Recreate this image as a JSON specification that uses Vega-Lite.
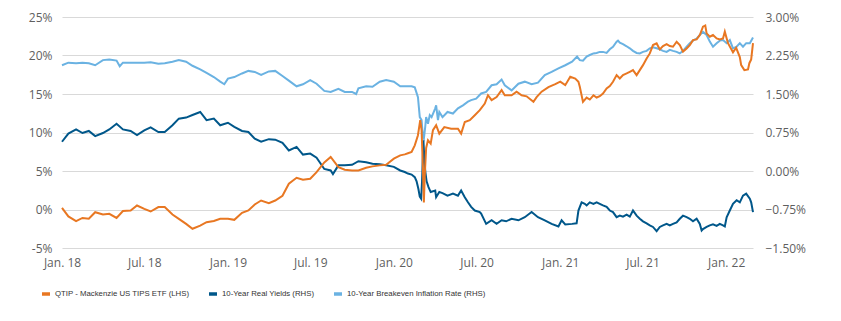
{
  "$schema": "https://vega.github.io/schema/vega-lite/v6.json",
  "width": 691,
  "height": 231,
  "autosize": {"type": "none"},
  "padding": {"left": 62, "top": 17, "right": 88, "bottom": 73},
  "background": "white",
  "config": {
    "view": {"stroke": null},
    "font": "Open Sans",
    "axis": {"labelFont": "Open Sans", "labelFontSize": 12, "labelColor": "#5f5f5f", "title": null, "domain": false, "ticks": false},
    "legend": {
      "orient": "none", "legendX": -22, "legendY": 271, "direction": "horizontal", "columns": 3,
      "symbolType": "stroke", "symbolSize": 64, "symbolStrokeWidth": 3.5,
      "labelFont": "Liberation Sans", "labelFontSize": 7.8, "labelColor": "#333333", "labelLimit": 0,
      "columnPadding": 12, "labelOffset": 3, "padding": 0, "title": null
    }
  },
  "datasets": {
    "be": [
      {"date":"2018-01-01","value":2.06},{"date":"2018-01-15","value":2.11},{"date":"2018-02-01","value":2.10},{"date":"2018-02-15","value":2.11},
      {"date":"2018-03-01","value":2.10},{"date":"2018-03-15","value":2.06},{"date":"2018-04-01","value":2.16},{"date":"2018-04-15","value":2.17},
      {"date":"2018-05-01","value":2.15},{"date":"2018-05-08","value":2.04},{"date":"2018-05-15","value":2.11},{"date":"2018-06-01","value":2.11},
      {"date":"2018-06-15","value":2.11},{"date":"2018-07-01","value":2.11},{"date":"2018-07-15","value":2.12},{"date":"2018-08-01","value":2.09},
      {"date":"2018-08-15","value":2.10},{"date":"2018-09-01","value":2.13},{"date":"2018-09-15","value":2.16},{"date":"2018-10-01","value":2.13},
      {"date":"2018-10-15","value":2.05},{"date":"2018-11-01","value":1.98},{"date":"2018-11-15","value":1.91},{"date":"2018-12-01","value":1.83},
      {"date":"2018-12-15","value":1.74},{"date":"2018-12-24","value":1.69},{"date":"2019-01-01","value":1.80},{"date":"2019-01-15","value":1.83},
      {"date":"2019-02-01","value":1.90},{"date":"2019-02-15","value":1.95},{"date":"2019-03-01","value":1.93},{"date":"2019-03-15","value":1.87},
      {"date":"2019-04-01","value":1.94},{"date":"2019-04-15","value":1.95},{"date":"2019-05-01","value":1.85},{"date":"2019-05-15","value":1.76},
      {"date":"2019-06-01","value":1.65},{"date":"2019-06-15","value":1.69},{"date":"2019-07-01","value":1.77},{"date":"2019-07-15","value":1.70},
      {"date":"2019-08-01","value":1.56},{"date":"2019-08-15","value":1.54},{"date":"2019-09-01","value":1.60},{"date":"2019-09-15","value":1.54},
      {"date":"2019-10-01","value":1.54},{"date":"2019-10-10","value":1.50},{"date":"2019-10-15","value":1.61},{"date":"2019-11-01","value":1.65},
      {"date":"2019-11-15","value":1.64},{"date":"2019-12-01","value":1.74},{"date":"2019-12-15","value":1.77},{"date":"2020-01-01","value":1.74},
      {"date":"2020-01-15","value":1.65},{"date":"2020-01-25","value":1.65},{"date":"2020-02-09","value":1.65},{"date":"2020-02-16","value":1.63},
      {"date":"2020-02-23","value":1.44},{"date":"2020-02-27","value":1.05},{"date":"2020-03-02","value":0.99},{"date":"2020-03-05","value":0.66},
      {"date":"2020-03-07","value":0.63},{"date":"2020-03-10","value":0.86},{"date":"2020-03-12","value":1.05},{"date":"2020-03-16","value":0.92},
      {"date":"2020-03-20","value":1.09},{"date":"2020-03-24","value":1.05},{"date":"2020-04-01","value":1.22},{"date":"2020-04-03","value":1.28},
      {"date":"2020-04-07","value":0.99},{"date":"2020-04-10","value":1.15},{"date":"2020-04-17","value":1.05},{"date":"2020-04-28","value":1.15},
      {"date":"2020-05-10","value":1.12},{"date":"2020-05-21","value":1.22},{"date":"2020-06-01","value":1.28},{"date":"2020-06-12","value":1.35},
      {"date":"2020-06-19","value":1.38},{"date":"2020-06-30","value":1.41},{"date":"2020-07-11","value":1.51},{"date":"2020-07-22","value":1.54},
      {"date":"2020-08-03","value":1.67},{"date":"2020-08-14","value":1.69},{"date":"2020-08-25","value":1.78},{"date":"2020-09-01","value":1.67},
      {"date":"2020-09-16","value":1.57},{"date":"2020-10-01","value":1.70},{"date":"2020-10-15","value":1.74},{"date":"2020-10-30","value":1.69},
      {"date":"2020-11-13","value":1.72},{"date":"2020-11-28","value":1.87},{"date":"2020-12-13","value":1.93},{"date":"2020-12-28","value":2.00},
      {"date":"2021-01-12","value":2.06},{"date":"2021-01-27","value":2.13},{"date":"2021-02-07","value":2.23},{"date":"2021-02-13","value":2.16},
      {"date":"2021-02-20","value":2.15},{"date":"2021-02-28","value":2.23},{"date":"2021-03-07","value":2.26},{"date":"2021-03-15","value":2.29},
      {"date":"2021-03-22","value":2.30},{"date":"2021-03-29","value":2.32},{"date":"2021-04-05","value":2.32},{"date":"2021-04-13","value":2.30},
      {"date":"2021-04-20","value":2.37},{"date":"2021-04-27","value":2.42},{"date":"2021-05-05","value":2.52},{"date":"2021-05-08","value":2.54},
      {"date":"2021-05-12","value":2.50},{"date":"2021-05-19","value":2.47},{"date":"2021-05-27","value":2.43},{"date":"2021-06-03","value":2.39},
      {"date":"2021-06-10","value":2.34},{"date":"2021-06-18","value":2.30},{"date":"2021-06-25","value":2.29},{"date":"2021-07-02","value":2.32},
      {"date":"2021-07-10","value":2.34},{"date":"2021-07-17","value":2.39},{"date":"2021-07-24","value":2.41},{"date":"2021-08-01","value":2.39},
      {"date":"2021-08-08","value":2.37},{"date":"2021-08-15","value":2.34},{"date":"2021-08-23","value":2.32},{"date":"2021-08-30","value":2.36},
      {"date":"2021-09-06","value":2.34},{"date":"2021-09-14","value":2.32},{"date":"2021-09-21","value":2.29},{"date":"2021-09-28","value":2.34},
      {"date":"2021-10-06","value":2.42},{"date":"2021-10-13","value":2.49},{"date":"2021-10-20","value":2.54},{"date":"2021-10-28","value":2.58},
      {"date":"2021-11-04","value":2.65},{"date":"2021-11-11","value":2.71},{"date":"2021-11-19","value":2.65},{"date":"2021-11-26","value":2.52},
      {"date":"2021-12-03","value":2.42},{"date":"2021-12-11","value":2.49},{"date":"2021-12-18","value":2.54},{"date":"2021-12-25","value":2.55},
      {"date":"2022-01-02","value":2.49},{"date":"2022-01-09","value":2.55},{"date":"2022-01-16","value":2.39},{"date":"2022-01-24","value":2.42},
      {"date":"2022-01-31","value":2.49},{"date":"2022-02-07","value":2.42},{"date":"2022-02-14","value":2.49},{"date":"2022-02-22","value":2.49},
      {"date":"2022-03-01","value":2.60}
    ],
    "ry": [
      {"date":"2018-01-01","value":0.57},{"date":"2018-01-15","value":0.73},{"date":"2018-02-01","value":0.81},{"date":"2018-02-15","value":0.74},
      {"date":"2018-03-01","value":0.78},{"date":"2018-03-15","value":0.68},{"date":"2018-04-01","value":0.74},{"date":"2018-04-15","value":0.81},
      {"date":"2018-05-01","value":0.92},{"date":"2018-05-15","value":0.81},{"date":"2018-06-01","value":0.78},{"date":"2018-06-15","value":0.70},
      {"date":"2018-07-01","value":0.79},{"date":"2018-07-15","value":0.85},{"date":"2018-08-01","value":0.76},{"date":"2018-08-15","value":0.76},
      {"date":"2018-09-01","value":0.89},{"date":"2018-09-15","value":1.02},{"date":"2018-10-01","value":1.04},{"date":"2018-10-15","value":1.09},
      {"date":"2018-11-01","value":1.15},{"date":"2018-11-15","value":0.99},{"date":"2018-12-01","value":1.02},{"date":"2018-12-15","value":0.89},
      {"date":"2019-01-01","value":0.94},{"date":"2019-01-15","value":0.86},{"date":"2019-02-01","value":0.78},{"date":"2019-02-15","value":0.76},
      {"date":"2019-03-01","value":0.63},{"date":"2019-03-15","value":0.57},{"date":"2019-04-01","value":0.62},{"date":"2019-04-15","value":0.61},
      {"date":"2019-05-01","value":0.55},{"date":"2019-05-15","value":0.40},{"date":"2019-06-01","value":0.47},{"date":"2019-06-15","value":0.32},
      {"date":"2019-07-01","value":0.34},{"date":"2019-07-15","value":0.26},{"date":"2019-08-01","value":0.04},{"date":"2019-08-15","value":0.01},
      {"date":"2019-08-20","value":-0.06},{"date":"2019-09-01","value":0.11},{"date":"2019-09-15","value":0.11},{"date":"2019-10-01","value":0.12},
      {"date":"2019-10-15","value":0.19},{"date":"2019-11-01","value":0.17},{"date":"2019-11-15","value":0.14},{"date":"2019-12-01","value":0.13},
      {"date":"2019-12-15","value":0.11},{"date":"2020-01-01","value":0.08},{"date":"2020-01-15","value":0.01},{"date":"2020-01-25","value":-0.02},
      {"date":"2020-02-01","value":-0.05},{"date":"2020-02-09","value":-0.07},{"date":"2020-02-16","value":-0.12},{"date":"2020-02-20","value":-0.20},
      {"date":"2020-02-24","value":-0.35},{"date":"2020-02-27","value":-0.50},{"date":"2020-03-01","value":-0.54},{"date":"2020-03-03","value":-0.20},
      {"date":"2020-03-06","value":0.60},{"date":"2020-03-08","value":0.25},{"date":"2020-03-10","value":0.00},{"date":"2020-03-13","value":-0.20},
      {"date":"2020-03-17","value":-0.31},{"date":"2020-03-22","value":-0.41},{"date":"2020-04-01","value":-0.38},{"date":"2020-04-03","value":-0.51},
      {"date":"2020-04-10","value":-0.41},{"date":"2020-04-17","value":-0.43},{"date":"2020-04-28","value":-0.48},{"date":"2020-05-10","value":-0.44},
      {"date":"2020-05-21","value":-0.48},{"date":"2020-05-28","value":-0.38},{"date":"2020-06-05","value":-0.51},{"date":"2020-06-12","value":-0.61},
      {"date":"2020-06-19","value":-0.70},{"date":"2020-06-27","value":-0.77},{"date":"2020-07-08","value":-0.80},{"date":"2020-07-11","value":-0.83},
      {"date":"2020-07-22","value":-1.03},{"date":"2020-08-03","value":-0.96},{"date":"2020-08-14","value":-1.03},{"date":"2020-08-25","value":-0.96},
      {"date":"2020-09-04","value":-0.98},{"date":"2020-09-16","value":-0.93},{"date":"2020-10-01","value":-0.96},{"date":"2020-10-15","value":-0.90},
      {"date":"2020-10-30","value":-0.80},{"date":"2020-11-13","value":-0.90},{"date":"2020-11-28","value":-0.96},{"date":"2020-12-13","value":-1.03},
      {"date":"2020-12-28","value":-1.08},{"date":"2021-01-04","value":-0.96},{"date":"2021-01-12","value":-1.04},{"date":"2021-01-27","value":-1.03},
      {"date":"2021-02-06","value":-1.02},{"date":"2021-02-10","value":-0.77},{"date":"2021-02-17","value":-0.61},{"date":"2021-02-24","value":-0.64},
      {"date":"2021-02-28","value":-0.67},{"date":"2021-03-07","value":-0.61},{"date":"2021-03-15","value":-0.64},{"date":"2021-03-22","value":-0.61},
      {"date":"2021-03-29","value":-0.64},{"date":"2021-04-05","value":-0.67},{"date":"2021-04-13","value":-0.70},{"date":"2021-04-20","value":-0.77},
      {"date":"2021-04-27","value":-0.80},{"date":"2021-05-05","value":-0.90},{"date":"2021-05-12","value":-0.87},{"date":"2021-05-19","value":-0.89},
      {"date":"2021-05-27","value":-0.85},{"date":"2021-06-03","value":-0.89},{"date":"2021-06-10","value":-0.77},{"date":"2021-06-18","value":-0.87},
      {"date":"2021-06-25","value":-0.93},{"date":"2021-07-02","value":-0.98},{"date":"2021-07-10","value":-1.02},{"date":"2021-07-17","value":-1.06},
      {"date":"2021-07-24","value":-1.09},{"date":"2021-08-01","value":-1.17},{"date":"2021-08-08","value":-1.09},{"date":"2021-08-15","value":-1.06},
      {"date":"2021-08-23","value":-1.03},{"date":"2021-08-30","value":-1.06},{"date":"2021-09-06","value":-1.03},{"date":"2021-09-14","value":-1.00},
      {"date":"2021-09-21","value":-0.93},{"date":"2021-09-28","value":-0.87},{"date":"2021-10-06","value":-0.90},{"date":"2021-10-13","value":-0.93},
      {"date":"2021-10-20","value":-0.98},{"date":"2021-10-28","value":-0.93},{"date":"2021-11-04","value":-1.03},{"date":"2021-11-08","value":-1.16},
      {"date":"2021-11-11","value":-1.13},{"date":"2021-11-19","value":-1.09},{"date":"2021-11-26","value":-1.06},{"date":"2021-12-03","value":-1.04},
      {"date":"2021-12-11","value":-1.07},{"date":"2021-12-18","value":-1.03},{"date":"2021-12-25","value":-1.06},{"date":"2021-12-29","value":-1.08},
      {"date":"2022-01-02","value":-0.90},{"date":"2022-01-09","value":-0.77},{"date":"2022-01-16","value":-0.64},{"date":"2022-01-24","value":-0.57},
      {"date":"2022-01-31","value":-0.61},{"date":"2022-02-07","value":-0.48},{"date":"2022-02-14","value":-0.44},{"date":"2022-02-22","value":-0.54},
      {"date":"2022-02-25","value":-0.61},{"date":"2022-03-01","value":-0.80}
    ],
    "q": [
      {"date":"2018-01-01","value":0.22},{"date":"2018-01-15","value":-0.9},{"date":"2018-02-01","value":-1.5},{"date":"2018-02-15","value":-1.1},
      {"date":"2018-03-01","value":-1.2},{"date":"2018-03-15","value":-0.35},{"date":"2018-04-01","value":-0.65},{"date":"2018-04-15","value":-0.56},
      {"date":"2018-05-01","value":-1.1},{"date":"2018-05-15","value":-0.2},{"date":"2018-06-01","value":-0.13},{"date":"2018-06-15","value":0.52},
      {"date":"2018-07-01","value":0.09},{"date":"2018-07-15","value":-0.26},{"date":"2018-08-01","value":0.31},{"date":"2018-08-15","value":0.31},
      {"date":"2018-09-01","value":-0.65},{"date":"2018-09-15","value":-1.21},{"date":"2018-10-01","value":-1.87},{"date":"2018-10-15","value":-2.5},
      {"date":"2018-11-01","value":-2.1},{"date":"2018-11-15","value":-1.65},{"date":"2018-12-01","value":-1.5},{"date":"2018-12-15","value":-1.21},
      {"date":"2019-01-01","value":-1.21},{"date":"2019-01-15","value":-1.34},{"date":"2019-02-01","value":-0.43},{"date":"2019-02-15","value":-0.13},
      {"date":"2019-03-01","value":0.65},{"date":"2019-03-15","value":1.17},{"date":"2019-04-01","value":0.83},{"date":"2019-04-15","value":1.17},
      {"date":"2019-05-01","value":1.78},{"date":"2019-05-15","value":3.34},{"date":"2019-06-01","value":4.12},{"date":"2019-06-15","value":3.86},
      {"date":"2019-07-01","value":3.99},{"date":"2019-07-15","value":4.86},{"date":"2019-08-01","value":6.12},{"date":"2019-08-15","value":6.82},
      {"date":"2019-09-01","value":5.51},{"date":"2019-09-15","value":5.17},{"date":"2019-10-01","value":5.08},{"date":"2019-10-15","value":5.08},
      {"date":"2019-11-01","value":5.43},{"date":"2019-11-15","value":5.60},{"date":"2019-12-01","value":5.73},{"date":"2019-12-15","value":5.82},
      {"date":"2020-01-01","value":6.6},{"date":"2020-01-15","value":7.03},{"date":"2020-01-25","value":7.16},{"date":"2020-02-01","value":7.3},
      {"date":"2020-02-09","value":7.47},{"date":"2020-02-16","value":8.33},{"date":"2020-02-23","value":9.64},{"date":"2020-02-28","value":11.6},
      {"date":"2020-03-02","value":10.3},{"date":"2020-03-05","value":5.1},{"date":"2020-03-07","value":0.9},{"date":"2020-03-09","value":4.5},
      {"date":"2020-03-12","value":8.0},{"date":"2020-03-16","value":9.0},{"date":"2020-03-22","value":8.55},{"date":"2020-03-27","value":10.3},
      {"date":"2020-04-03","value":10.94},{"date":"2020-04-10","value":9.85},{"date":"2020-04-21","value":10.7},{"date":"2020-05-06","value":10.5},
      {"date":"2020-05-21","value":10.5},{"date":"2020-05-28","value":9.85},{"date":"2020-06-05","value":11.37},{"date":"2020-06-16","value":11.6},
      {"date":"2020-06-27","value":12.24},{"date":"2020-07-08","value":12.9},{"date":"2020-07-19","value":13.76},{"date":"2020-07-26","value":14.84},
      {"date":"2020-08-03","value":14.2},{"date":"2020-08-14","value":14.6},{"date":"2020-08-25","value":15.5},{"date":"2020-09-01","value":14.84},
      {"date":"2020-09-16","value":14.84},{"date":"2020-09-27","value":15.3},{"date":"2020-10-08","value":14.84},{"date":"2020-10-19","value":14.7},
      {"date":"2020-11-03","value":13.98},{"date":"2020-11-10","value":14.6},{"date":"2020-11-21","value":15.3},{"date":"2020-12-06","value":15.9},
      {"date":"2020-12-21","value":16.28},{"date":"2021-01-01","value":16.6},{"date":"2021-01-12","value":16.15},{"date":"2021-01-23","value":17.23},
      {"date":"2021-02-03","value":17.0},{"date":"2021-02-10","value":16.6},{"date":"2021-02-13","value":15.93},{"date":"2021-02-20","value":13.98},
      {"date":"2021-02-28","value":14.54},{"date":"2021-03-07","value":14.28},{"date":"2021-03-15","value":14.84},{"date":"2021-03-22","value":14.54},
      {"date":"2021-03-29","value":14.71},{"date":"2021-04-05","value":15.06},{"date":"2021-04-13","value":15.71},{"date":"2021-04-20","value":16.02},
      {"date":"2021-04-27","value":16.58},{"date":"2021-05-05","value":17.45},{"date":"2021-05-12","value":17.01},{"date":"2021-05-19","value":17.45},
      {"date":"2021-05-27","value":17.67},{"date":"2021-06-03","value":17.88},{"date":"2021-06-10","value":18.10},{"date":"2021-06-18","value":17.45},
      {"date":"2021-06-25","value":18.10},{"date":"2021-07-02","value":18.75},{"date":"2021-07-10","value":19.62},{"date":"2021-07-17","value":20.27},
      {"date":"2021-07-24","value":21.35},{"date":"2021-08-01","value":21.57},{"date":"2021-08-08","value":20.79},{"date":"2021-08-15","value":21.22},
      {"date":"2021-08-23","value":21.48},{"date":"2021-08-30","value":21.22},{"date":"2021-09-06","value":21.14},{"date":"2021-09-14","value":21.79},
      {"date":"2021-09-21","value":21.35},{"date":"2021-09-28","value":20.49},{"date":"2021-10-06","value":20.92},{"date":"2021-10-13","value":21.35},
      {"date":"2021-10-20","value":22.0},{"date":"2021-10-28","value":22.09},{"date":"2021-11-04","value":22.66},{"date":"2021-11-11","value":23.74},
      {"date":"2021-11-16","value":23.9},{"date":"2021-11-19","value":22.87},{"date":"2021-11-26","value":22.44},{"date":"2021-12-03","value":22.66},
      {"date":"2021-12-11","value":22.22},{"date":"2021-12-18","value":22.09},{"date":"2021-12-25","value":22.22},{"date":"2021-12-29","value":23.1},
      {"date":"2022-01-05","value":21.6},{"date":"2022-01-16","value":20.4},{"date":"2022-01-23","value":21.0},{"date":"2022-01-31","value":19.8},
      {"date":"2022-02-03","value":18.75},{"date":"2022-02-10","value":18.1},{"date":"2022-02-18","value":18.2},{"date":"2022-02-21","value":19.0},
      {"date":"2022-02-25","value":19.5},{"date":"2022-03-01","value":21.6}
    ]
  },
  "encoding": {
    "x": {
      "field": "date", "type": "temporal",
      "scale": {"type": "utc", "domain": [{"year": 2018, "month": 1, "date": 1, "utc": true}, {"year": 2022, "month": 3, "date": 1, "utc": true}], "nice": false},
      "axis": {
        "grid": false, "labelFlush": false, "labelPadding": 9,
        "values": [
          {"year": 2018, "month": 1, "date": 1, "utc": true}, {"year": 2018, "month": 7, "date": 1, "utc": true},
          {"year": 2019, "month": 1, "date": 1, "utc": true}, {"year": 2019, "month": 7, "date": 1, "utc": true},
          {"year": 2020, "month": 1, "date": 1, "utc": true}, {"year": 2020, "month": 7, "date": 1, "utc": true},
          {"year": 2021, "month": 1, "date": 1, "utc": true}, {"year": 2021, "month": 7, "date": 1, "utc": true},
          {"year": 2022, "month": 1, "date": 1, "utc": true}
        ],
        "labelExpr": "utcFormat(datum.value, '%b. %y')"
      }
    }
  },
  "layer": [
    {
      "layer": [
        {
          "data": {"name": "be"},
          "mark": {"type": "line", "strokeWidth": 2, "interpolate": "linear"},
          "encoding": {
            "y": {"field": "value", "type": "quantitative", "scale": {"domain": [-1.5, 3], "nice": false, "zero": false},
              "axis": {"orient": "right", "grid": false, "labelPadding": 12, "values": [-1.5, -0.75, 0, 0.75, 1.5, 2.25, 3], "labelExpr": "format(datum.value, '.2f') + '%'"}},
            "color": {"datum": "10-Year Breakeven Inflation Rate (RHS)", "type": "nominal",
              "scale": {"domain": ["QTIP - Mackenzie US TIPS ETF (LHS)", "10-Year Real Yields (RHS)", "10-Year Breakeven Inflation Rate (RHS)"], "range": ["#E87722", "#00578A", "#6AB2E2"]}}
          }
        },
        {
          "data": {"name": "ry"},
          "mark": {"type": "line", "strokeWidth": 2, "interpolate": "linear"},
          "encoding": {
            "y": {"field": "value", "type": "quantitative", "scale": {"domain": [-1.5, 3], "nice": false, "zero": false},
              "axis": {"orient": "right", "grid": false, "labelPadding": 12, "values": [-1.5, -0.75, 0, 0.75, 1.5, 2.25, 3], "labelExpr": "format(datum.value, '.2f') + '%'"}},
            "color": {"datum": "10-Year Real Yields (RHS)", "type": "nominal"}
          }
        }
      ]
    },
    {
      "data": {"name": "q"},
      "mark": {"type": "line", "strokeWidth": 2, "interpolate": "linear"},
      "encoding": {
        "y": {"field": "value", "type": "quantitative", "scale": {"domain": [-5, 25], "nice": false, "zero": false},
          "axis": {"orient": "left", "grid": true, "gridColor": "#d9d9d9", "gridWidth": 1, "labelPadding": 10, "values": [-5, 0, 5, 10, 15, 20, 25], "labelExpr": "datum.value + '%'"}},
        "color": {"datum": "QTIP - Mackenzie US TIPS ETF (LHS)", "type": "nominal"}
      }
    }
  ],
  "resolve": {"scale": {"y": "independent"}}
}
